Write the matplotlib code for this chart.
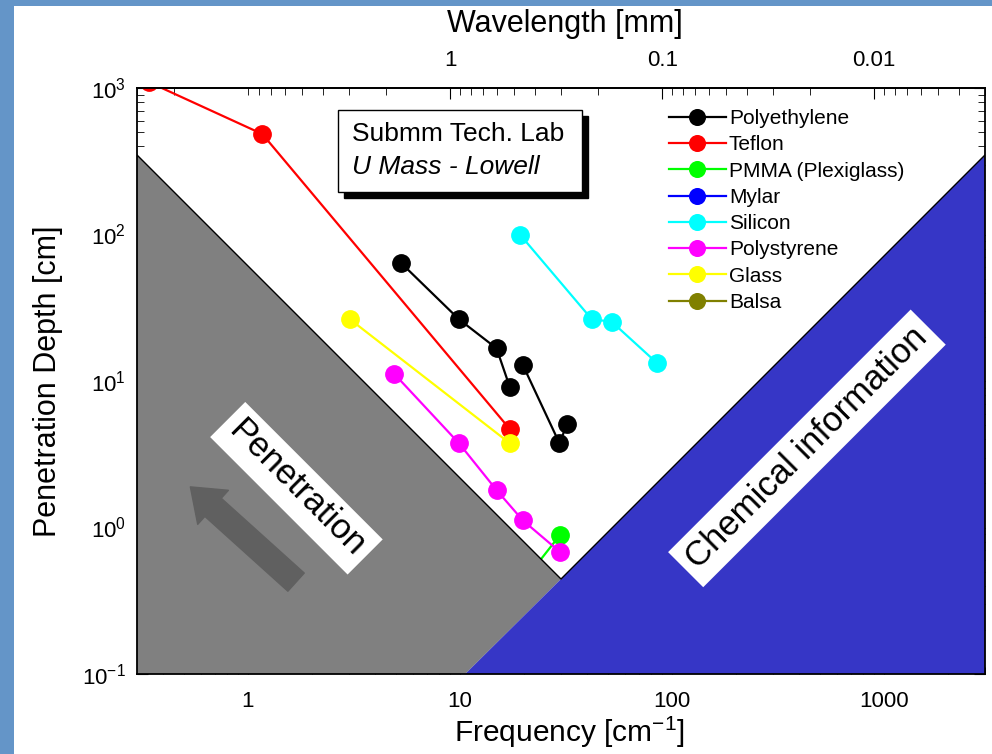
import numpy as np
import matplotlib.pyplot as plt
from matplotlib.patches import Rectangle, Polygon
from matplotlib.ticker import LogLocator, FixedLocator, NullFormatter, FixedFormatter

plt.rcParams['font.family'] = ['Liberation Sans', 'DejaVu Sans']

# Penetration depth [cm] vs frequency [cm^-1] for each material
polyethylene_f = [5.3, 9.9, 14.9, 17.2, np.nan, 19.8, 29.5, 32.1]
polyethylene_d = [63.6, 26.4, 16.7, 9.1, np.nan, 12.9, 3.76, 5.1]
teflon_f = [0.34, 1.17, 17.2]
teflon_d = [1100, 485, 4.7]
pmma_f = [29.7, 20.0]
pmma_d = [0.89, 0.43]
mylar_f = []
mylar_d = []
silicon_f = [19.2, 41.9, 52.0, 85.4]
silicon_d = [100, 26.4, 25.4, 13.2]
polystyrene_f = [4.9, 9.9, 14.9, 19.8, 29.7]
polystyrene_d = [11.2, 3.76, 1.80, 1.12, 0.68]
glass_f = [3.03, 17.2]
glass_d = [26.4, 3.76]
balsa_f = []
balsa_d = []

series = [
    ('Polyethylene', polyethylene_f, polyethylene_d, 'black'),
    ('Teflon', teflon_f, teflon_d, 'red'),
    ('PMMA (Plexiglass)', pmma_f, pmma_d, '#00ff00'),
    ('Mylar', mylar_f, mylar_d, 'blue'),
    ('Silicon', silicon_f, silicon_d, 'cyan'),
    ('Polystyrene', polystyrene_f, polystyrene_d, 'magenta'),
    ('Glass', glass_f, glass_d, 'yellow'),
    ('Balsa', balsa_f, balsa_d, '#808000'),
]

# shaded regions (penetration limit on the left, chemical information on the right)
pen_f = [0.3, 0.3, 30, 10.6]
pen_d = [0.1, 349, 0.445, 0.1]
chem_f = [10.6, 30, 3000, 3000]
chem_d = [0.1, 0.445, 349, 0.1]
edge_f = [0.3, 30, 3000]
edge_d = [349, 0.445, 349]

WAVE_K = 9.0  # wavelength[mm] = WAVE_K / frequency

fig = plt.figure(figsize=(9.92, 7.54), dpi=100)
fig.patch.set_facecolor('#6495c8')
fig.add_artist(Rectangle((14/992, 0), 978/992, 748/754, transform=fig.transFigure,
                         facecolor='white', edgecolor='none', zorder=-1))

ax = fig.add_axes([137/992, 80/754, 848/992, 586/754])
ax.set_xscale('log')
ax.set_yscale('log')
ax.set_xlim(0.3, 3000)
ax.set_ylim(0.1, 1000)

# real clip path (not just a clip box) so markers get cut at the frame too
clip_shape = Polygon([[0, 0], [1, 0], [1, 1], [0, 1]], closed=True,
                     transform=ax.transAxes, facecolor='none', edgecolor='none')
for name, f, d, c in series:
    ln, = ax.plot(f, d, '-o', color=c, lw=1.6, ms=12.5, mec=c, label=name, zorder=2)
    ln.set_clip_path(clip_shape)

ax.add_patch(Polygon(np.column_stack([pen_f, pen_d]), closed=True,
                     facecolor='#808080', edgecolor='none', zorder=3))
ax.add_patch(Polygon(np.column_stack([chem_f, chem_d]), closed=True,
                     facecolor='#3636c6', edgecolor='none', zorder=3))
ax.plot(edge_f, edge_d, color='black', lw=1, zorder=3.5)

# arrow and region labels
ax.annotate('', xy=(0.0605, 0.3225), xytext=(0.190, 0.1536), xycoords='axes fraction',
            arrowprops=dict(arrowstyle='simple,head_length=1.0,head_width=1.5,tail_width=0.8',
                            color='#606060', mutation_scale=22), zorder=4)
ax.text(0.188, 0.317, 'Penetration', transform=ax.transAxes, rotation=-45,
        ha='center', va='center', fontsize=25, zorder=5,
        bbox=dict(facecolor='white', edgecolor='none', pad=6))
ax.text(0.790, 0.385, 'Chemical information', transform=ax.transAxes, rotation=45,
        ha='center', va='center', fontsize=25, zorder=5,
        bbox=dict(facecolor='white', edgecolor='none', pad=6))

# lab box with drop shadow
bx, by, bw, bh = 0.237, 0.8225, 0.2877, 0.140
ax.add_patch(Rectangle((bx + 6/848, by - 6/586), bw, bh, transform=ax.transAxes,
                       facecolor='black', edgecolor='black', zorder=5))
ax.add_patch(Rectangle((bx, by), bw, bh, transform=ax.transAxes,
                       facecolor='white', edgecolor='black', lw=1, zorder=5.5))
ax.text(0.2535, 0.921, 'Submm Tech. Lab', transform=ax.transAxes, fontsize=19,
        ha='left', va='center', zorder=6)
ax.text(0.2535, 0.866, 'U Mass - Lowell', transform=ax.transAxes, fontsize=19,
        style='italic', ha='left', va='center', zorder=6)

ax.legend(loc='upper left', bbox_to_anchor=(0.6145, 0.982), frameon=False,
          fontsize=15, handlelength=2.75, handletextpad=0.15, labelspacing=0.35,
          borderpad=0, markerscale=0.9)

for sp in ax.spines.values():
    sp.set_linewidth(1.3)
    sp.set_zorder(6)

ax.tick_params(which='both', direction='in', right=True, labelsize=16)
ax.tick_params(which='major', length=8)
ax.tick_params(which='minor', length=5)
ax.tick_params(axis='y', pad=8)
ax.xaxis.set_major_locator(FixedLocator([1, 10, 100, 1000]))
ax.xaxis.set_major_formatter(FixedFormatter(['1', '10', '100', '1000']))
ax.xaxis.set_minor_formatter(NullFormatter())
ax.tick_params(axis='x', pad=12)

ax.set_xlabel('Frequency [$\\mathregular{cm^{-1}}$]', fontsize=21.5, labelpad=2, x=0.51)
ax.set_ylabel('Penetration Depth [cm]', fontsize=22, labelpad=14)

top = ax.secondary_xaxis('top', functions=(lambda f: WAVE_K / f, lambda w: WAVE_K / w))
top.xaxis.set_major_locator(FixedLocator([1, 0.1, 0.01]))
top.xaxis.set_major_formatter(FixedFormatter(['1', '0.1', '0.01']))
top.xaxis.set_minor_locator(LogLocator(base=10, subs=np.arange(2, 10)))
top.xaxis.set_minor_formatter(NullFormatter())
top.tick_params(which='both', direction='in', labelsize=16, pad=12)
top.tick_params(which='major', length=8)
top.tick_params(which='minor', length=5)
top.spines['top'].set_linewidth(1.3)
top.set_xlabel('Wavelength [mm]', fontsize=22, labelpad=13, x=0.505)

fig.savefig('out.png', dpi=100, facecolor=fig.get_facecolor())
